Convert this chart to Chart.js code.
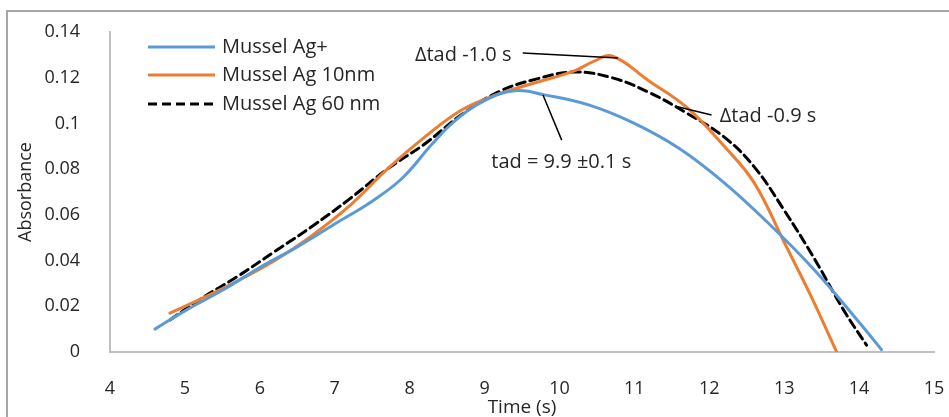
<!DOCTYPE html>
<html>
<head>
<meta charset="utf-8">
<script src="https://cdn.jsdelivr.net/npm/chart.js@4.4.0/dist/chart.umd.min.js"></script>
<style>
html, body { margin: 0; padding: 0; background: #fff; }
#wrap { width: 949px; height: 417px; }
</style>
</head>
<body>
<div id="wrap"><canvas id="chart" width="949" height="417"></canvas></div>
<script>
// values
var seriesNames = ['Mussel Ag+', 'Mussel Ag 10nm', 'Mussel Ag 60 nm'];

var timeAgIon = [4.6, 5.0, 5.5, 6.0, 6.5, 7.0, 7.5, 7.9, 8.3, 8.6, 9.0, 9.4, 9.8, 10.4, 11.0, 11.6, 12.2, 12.8, 13.4, 14.0, 14.3];
var absAgIon  = [0.010, 0.018, 0.027, 0.037, 0.046, 0.056, 0.066, 0.076, 0.091, 0.101, 0.110, 0.1143, 0.1125, 0.108, 0.100, 0.089, 0.074, 0.056, 0.036, 0.013, 0.001];

var timeAg10 = [4.8, 5.2, 5.7, 6.2, 6.7, 7.2, 7.7, 8.2, 8.7, 9.2, 9.7, 10.2, 10.45, 10.7, 11.2, 11.7, 12.2, 12.6, 13.0, 13.35, 13.7];
var absAg10  = [0.017, 0.023, 0.031, 0.040, 0.051, 0.064, 0.080, 0.094, 0.106, 0.113, 0.118, 0.123, 0.127, 0.1295, 0.1185, 0.107, 0.090, 0.074, 0.048, 0.025, 0.0];

var timeAg60 = [4.8, 5.2, 5.7, 6.2, 6.7, 7.2, 7.7, 8.2, 8.7, 9.2, 9.7, 10.2, 10.7, 11.2, 11.7, 12.2, 12.6, 13.0, 13.4, 13.8, 14.1];
var absAg60  = [0.014, 0.023, 0.033, 0.044, 0.055, 0.067, 0.080, 0.091, 0.104, 0.114, 0.1195, 0.1225, 0.120, 0.1135, 0.1045, 0.094, 0.081, 0.062, 0.041, 0.018, 0.003];

var xTicks = [4, 5, 6, 7, 8, 9, 10, 11, 12, 13, 14, 15];
var yTicks = [0, 0.02, 0.04, 0.06, 0.08, 0.1, 0.12, 0.14];
var yTickLabels = ['0', '0.02', '0.04', '0.06', '0.08', '0.1', '0.12', '0.14'];

var noteTexts = ['\u0394tad -1.0 s', '\u0394tad -0.9 s', 'tad = 9.9 \u00b10.1 s'];

function toPoints(xs, ys) {
    var pts = [];
    for (var i = 0; i < xs.length; i++) pts.push({x: xs[i], y: ys[i]});
    return pts;
}

// where the callout texts sit, in data units
var notes = [
    {text: noteTexts[0], at: [8.07, 0.1300], from: [9.51, 0.1308], to: [10.78, 0.1286]},
    {text: noteTexts[1], at: [12.14, 0.1033], from: [11.55, 0.1075], to: [12.03, 0.1037]},
    {text: noteTexts[2], at: [9.09, 0.0831], from: [9.78, 0.1124], to: [10.03, 0.0927]}
];

var textColor = '#262626';
var fontFamily = "'Open Sans', 'Noto Sans', sans-serif";

var frame = {
    id: 'frame',
    beforeDraw: function(chart) {
        var c = chart.ctx;
        c.save();
        c.strokeStyle = '#a6a6a6';
        c.lineWidth = 2;
        c.beginPath();
        c.moveTo(7, chart.height);
        c.lineTo(7, 11);
        c.lineTo(chart.width, 11);
        c.stroke();
        c.restore();
    }
};

var callouts = {
    id: 'callouts',
    afterDatasetsDraw: function(chart) {
        var c = chart.ctx, xs = chart.scales.x, ys = chart.scales.y;
        c.save();
        c.font = '20px ' + fontFamily;
        c.fillStyle = textColor;
        c.textBaseline = 'middle';
        c.textAlign = 'left';
        notes.forEach(function(n) {
            c.strokeStyle = '#000';
            c.lineWidth = 1.5;
            c.beginPath();
            c.moveTo(xs.getPixelForValue(n.from[0]), ys.getPixelForValue(n.from[1]));
            c.lineTo(xs.getPixelForValue(n.to[0]), ys.getPixelForValue(n.to[1]));
            c.stroke();
            c.fillText(n.text, xs.getPixelForValue(n.at[0]), ys.getPixelForValue(n.at[1]));
        });

        // legend, stacked at the top left of the plot
        var a = chart.chartArea;
        var rowY = [15, 43, 72];
        chart.data.datasets.forEach(function(ds, i) {
            var y = a.top + rowY[i];
            c.strokeStyle = ds.borderColor;
            c.lineWidth = ds.borderWidth;
            c.setLineDash(ds.borderDash || []);
            c.beginPath();
            c.moveTo(a.left + 38, y);
            c.lineTo(a.left + 105, y);
            c.stroke();
            c.setLineDash([]);
            c.fillText(ds.label, a.left + 112, y);
        });
        c.restore();
    }
};

var ctx = document.getElementById('chart');
var chart = new Chart(ctx, {
    type: 'scatter',
    data: {
        datasets: [
            {label: seriesNames[0], data: toPoints(timeAgIon, absAgIon), borderColor: '#5b9bd5', borderWidth: 3},
            {label: seriesNames[1], data: toPoints(timeAg10, absAg10), borderColor: '#ed7d31', borderWidth: 3},
            {label: seriesNames[2], data: toPoints(timeAg60, absAg60), borderColor: '#000000', borderWidth: 3, borderDash: [9, 5]}
        ]
    },
    options: {
        responsive: false,
        animation: false,
        devicePixelRatio: 1,
        showLine: true,
        elements: {
            point: {radius: 0, hoverRadius: 0},
            line: {tension: 0.4, borderCapStyle: 'round', fill: false}
        },
        layout: {padding: {left: 0, right: 15, top: 32, bottom: 0}},
        plugins: {legend: {display: false}, tooltip: {enabled: false}},
        scales: {
            x: {
                type: 'linear',
                min: 4, max: 15,
                grid: {display: false},
                border: {display: true, color: '#bfbfbf', width: 2},
                afterBuildTicks: function(s) { s.ticks = xTicks.map(function(v) { return {value: v}; }); },
                ticks: {
                    color: textColor, padding: 18,
                    font: {family: fontFamily, size: 18},
                    maxRotation: 0
                },
                title: {display: true, text: 'Time (s)', color: textColor,
                        font: {family: fontFamily, size: 19, lineHeight: 1}, padding: 0},
                afterFit: function(s) { s.height = 65; s.paddingLeft = 0; s.paddingRight = 0; }
            },
            y: {
                type: 'linear',
                min: 0, max: 0.14,
                grid: {display: false},
                border: {display: true, color: '#bfbfbf', width: 2},
                afterBuildTicks: function(s) { s.ticks = yTicks.map(function(v) { return {value: v}; }); },
                ticks: {
                    color: textColor, padding: 22,
                    font: {family: fontFamily, size: 18},
                    callback: function(v, i) { return yTickLabels[i]; }
                },
                title: {display: true, text: 'Absorbance', color: textColor,
                        font: {family: fontFamily, size: 18, lineHeight: 1}, padding: {top: 17, bottom: 0}},
                afterFit: function(s) { s.width = 110; s.paddingTop = 0; s.paddingBottom = 0; }
            }
        }
    },
    plugins: [frame, callouts]
});
</script>
</body>
</html>
